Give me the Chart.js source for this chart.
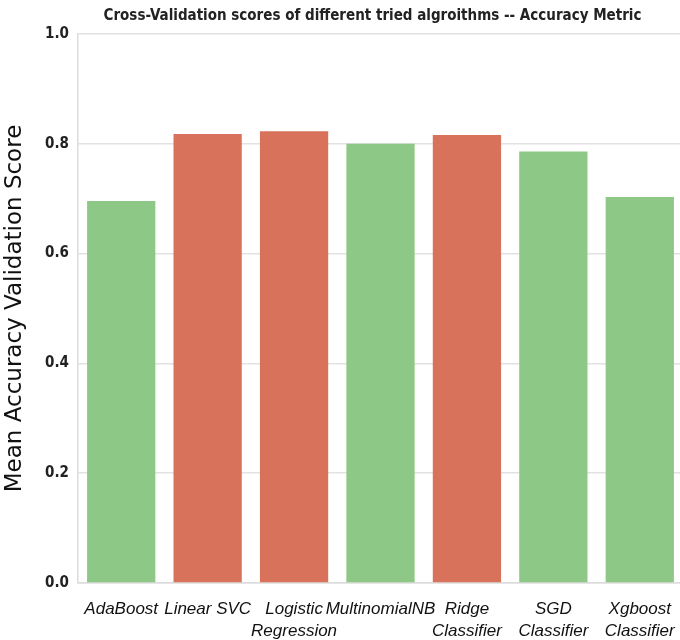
<!DOCTYPE html>
<html>
<head>
<meta charset="utf-8">
<script src="https://cdn.jsdelivr.net/npm/chart.js@4.4.0/dist/chart.umd.min.js"></script>
<style>
  html, body { margin: 0; padding: 0; background: #fff; overflow: hidden; }
  #wrap { width: 690px; height: 640px; }
</style>
</head>
<body>
<div id="wrap"><canvas id="myChart" width="690" height="640"></canvas></div>
<script>
var algorithms = ['AdaBoost', 'Linear SVC', 'Logistic\nRegression', 'MultinomialNB',
                  'Ridge\nClassifier', 'SGD\nClassifier', 'Xgboost\nClassifier'];
var meanScores = [0.696, 0.818, 0.823, 0.800, 0.816, 0.786, 0.703];
var isTopModel = [false, true, true, false, true, false, false];
var yTicks = [0.0, 0.2, 0.4, 0.6, 0.8, 1.0];

var chartTitle = 'Cross-Validation scores of different tried algroithms -- Accuracy Metric';
var yTitle = 'Mean Accuracy Validation Score';

var green = '#8ec886';
var red = '#d9725a';

// title sits over the plot area, a little left of its centre
var titlePlugin = {
  id: 'plotTitle',
  afterDraw: function(chart) {
    var ctx = chart.ctx;
    var area = chart.chartArea;
    ctx.save();
    ctx.font = 'bold 15px "DejaVu Sans Condensed", "DejaVu Sans", sans-serif';
    ctx.fillStyle = '#222';
    ctx.textAlign = 'center';
    ctx.textBaseline = 'middle';
    ctx.fillText(chartTitle, (area.left + area.right) / 2 - 8, 16);
    ctx.restore();
  }
};

var ctx = document.getElementById('myChart');

var myChart = new Chart(ctx, {
  type: 'bar',
  data: {
    labels: algorithms.map(function(a) { return a.split('\n'); }),
    datasets: [{
      data: meanScores,
      backgroundColor: isTopModel.map(function(t) { return t ? red : green; }),
      borderWidth: 0,
      barPercentage: 0.79,
      categoryPercentage: 1.0
    }]
  },
  options: {
    responsive: false,
    animation: false,
    layout: { padding: { top: 34, right: 7, left: 0, bottom: 0 } },
    plugins: {
      legend: { display: false },
      tooltip: { enabled: false }
    },
    scales: {
      x: {
        grid: { display: false },
        border: { display: true, color: '#dcdcdc', width: 1.5 },
        ticks: {
          color: '#111',
          padding: 7,
          maxRotation: 0,
          autoSkip: false,
          font: { family: '"Liberation Sans", sans-serif', size: 17, style: 'italic', lineHeight: 1.3 }
        },
        afterFit: function(scale) { scale.height = 57; }
      },
      y: {
        min: 0,
        max: 1,
        afterBuildTicks: function(scale) {
          scale.ticks = yTicks.map(function(v) { return { value: v }; });
        },
        grid: { color: '#e2e2e2', lineWidth: 1.5, drawTicks: false },
        border: { display: true, color: '#dcdcdc', width: 1.5 },
        ticks: {
          color: '#222',
          padding: 9,
          font: { family: '"DejaVu Sans Condensed", "DejaVu Sans", sans-serif', size: 15, weight: 'bold' },
          callback: function(v) { return Number(v).toFixed(1); }
        },
        title: {
          display: true,
          text: yTitle,
          color: '#111',
          font: { family: '"DejaVu Sans", sans-serif', size: 23 },
          padding: { top: 1, bottom: 2 }
        },
        afterFit: function(scale) { scale.width = 78; }
      }
    }
  },
  plugins: [titlePlugin]
});
</script>
</body>
</html>
